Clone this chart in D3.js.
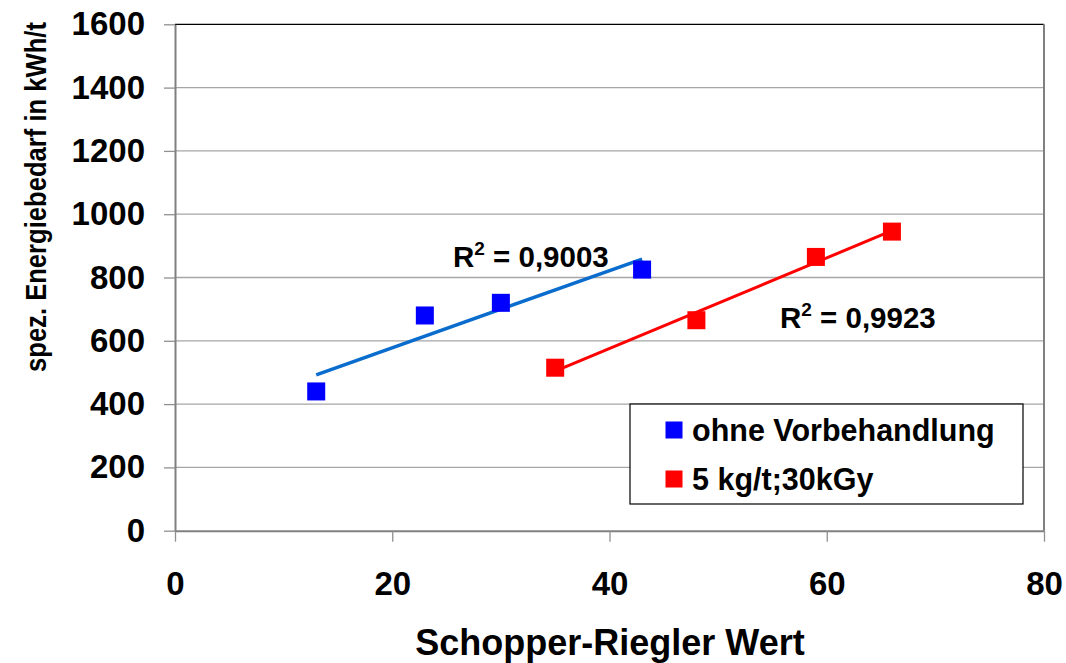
<!DOCTYPE html>
<html>
<head>
<meta charset="utf-8">
<script src="https://cdn.jsdelivr.net/npm/d3@7"></script>
<style>
  html, body { margin: 0; padding: 0; background: #fff; }
  svg { display: block; font-family: "Liberation Sans", Arial, sans-serif; font-weight: bold; }
</style>
</head>
<body>
<svg id="chart" width="1066" height="663"></svg>
<script>
// Schopper-Riegler value vs. specific energy demand
const seriesNames = ["ohne Vorbehandlung", "5 kg/t;30kGy"];
const untreatedSR = [13, 23, 30, 43];
const untreatedEnergy = [440, 680, 720, 825];
const treatedSR = [35, 48, 59, 66];
const treatedEnergy = [515, 665, 865, 945];
const rSquaredLabels = ["0,9003", "0,9923"];
const xTicks = [0, 20, 40, 60, 80];
const yTicks = [0, 200, 400, 600, 800, 1000, 1200, 1400, 1600];

const svg = d3.select("#chart");
const plotLeft = 175, plotRight = 1044, plotTop = 24.3, plotBottom = 530.7;

const x = d3.scaleLinear().domain([0, 80]).range([plotLeft, plotRight]);
const y = d3.scaleLinear().domain([0, 1600]).range([plotBottom, plotTop]);

// horizontal gridlines
svg.append("g").selectAll("line")
  .data(yTicks.filter(v => v > 0 && v < 1600))
  .join("line")
  .attr("x1", plotLeft).attr("x2", plotRight)
  .attr("y1", d => y(d)).attr("y2", d => y(d))
  .attr("stroke", "#a6a6a6").attr("stroke-width", 1.3);

// plot frame: top black, right grey
svg.append("line").attr("x1", plotLeft).attr("x2", plotRight).attr("y1", plotTop).attr("y2", plotTop)
  .attr("stroke", "#000").attr("stroke-width", 1.3);
svg.append("line").attr("x1", plotRight).attr("x2", plotRight).attr("y1", plotTop).attr("y2", plotBottom)
  .attr("stroke", "#808080").attr("stroke-width", 2);

// axes
const fmt = d3.format("d");
const xAxis = svg.append("g").attr("transform", `translate(0,${plotBottom})`)
  .call(d3.axisBottom(x).tickValues(xTicks).tickFormat(fmt).tickSize(11).tickPadding(30).tickSizeOuter(0));
const yAxis = svg.append("g").attr("transform", `translate(${plotLeft},0)`)
  .call(d3.axisLeft(y).tickValues(yTicks).tickFormat(fmt).tickSize(11).tickPadding(19).tickSizeOuter(0));

[xAxis, yAxis].forEach(g => {
  g.select(".domain").attr("stroke", "#808080").attr("stroke-width", 2);
  g.selectAll(".tick line").attr("stroke", "#909090").attr("stroke-width", 1.3);
  g.selectAll(".tick text")
    .attr("fill", "#000")
    .style("font-family", '"Liberation Sans", Arial, sans-serif')
    .style("font-weight", "bold")
    .style("font-size", "33px");
});

// linear trend line over the data range
function trend(xs, ys) {
  const mx = d3.mean(xs), my = d3.mean(ys);
  const sxy = d3.sum(xs, (v, i) => (v - mx) * (ys[i] - my));
  const sxx = d3.sum(xs, v => (v - mx) * (v - mx));
  const slope = sxy / sxx, icpt = my - slope * mx;
  const x0 = d3.min(xs), x1 = d3.max(xs);
  return [[x0, icpt + slope * x0], [x1, icpt + slope * x1]];
}

const line = d3.line().x(d => x(d[0])).y(d => y(d[1]));

const series = [
  { xs: untreatedSR, ys: untreatedEnergy, marker: "#0000ff", trendColor: "#0a6ccc", trendWidth: 3.5 },
  { xs: treatedSR, ys: treatedEnergy, marker: "#ff0000", trendColor: "#ff0000", trendWidth: 3 }
];

series.forEach(s => {
  svg.append("path").datum(trend(s.xs, s.ys))
    .attr("d", line).attr("fill", "none")
    .attr("stroke", s.trendColor).attr("stroke-width", s.trendWidth);
});

const ms = 18;
series.forEach(s => {
  svg.append("g").selectAll("rect")
    .data(s.xs.map((v, i) => [v, s.ys[i]]))
    .join("rect")
    .attr("x", d => x(d[0]) - ms / 2)
    .attr("y", d => y(d[1]) - ms / 2)
    .attr("width", ms).attr("height", ms)
    .attr("fill", s.marker);
});

// R² annotations
function rLabel(px, py, value) {
  const t = svg.append("text").attr("x", px).attr("y", py)
    .attr("font-size", 29.5).attr("fill", "#000");
  t.append("tspan").text("R");
  t.append("tspan").attr("font-size", 19).attr("dy", -12).text("2");
  t.append("tspan").attr("dy", 12).text(" = " + value);
}
rLabel(453, 267, rSquaredLabels[0]);
rLabel(780, 328, rSquaredLabels[1]);

// legend
const legend = svg.append("g");
legend.append("rect").attr("x", 630).attr("y", 404).attr("width", 393).attr("height", 100)
  .attr("fill", "#fff").attr("stroke", "#000").attr("stroke-width", 1.2);
const legendColors = ["#0000ff", "#ff0000"];
const legendRows = [430, 479];
seriesNames.forEach((name, i) => {
  legend.append("rect").attr("x", 665.5).attr("y", legendRows[i] - 8.5)
    .attr("width", 17).attr("height", 17).attr("fill", legendColors[i]);
  legend.append("text").attr("x", 692).attr("y", legendRows[i] + 10.5)
    .attr("font-size", 30.5).attr("fill", "#000").text(name);
});

// axis titles
svg.append("text").attr("x", 610).attr("y", 655).attr("text-anchor", "middle")
  .attr("font-size", 36).attr("fill", "#000").text("Schopper-Riegler Wert");
svg.append("text").attr("transform", "translate(46,197) rotate(-90)")
  .attr("text-anchor", "middle").attr("font-size", 30).attr("fill", "#000")
  .attr("textLength", 350).attr("lengthAdjust", "spacingAndGlyphs")
  .text("spez. Energiebedarf in kWh/t");
</script>
</body>
</html>
